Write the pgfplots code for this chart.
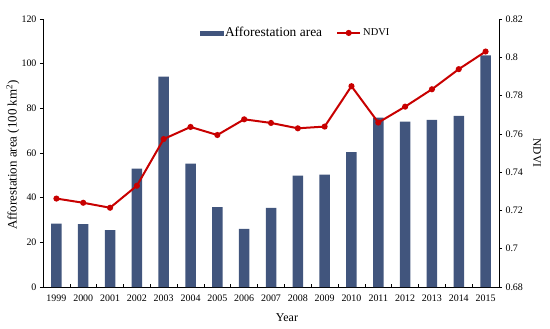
\documentclass[border=0pt]{standalone}
\usepackage{pgfplots}
\pgfplotsset{compat=1.18}
\usepackage{fontspec}
\setmainfont{Liberation Serif}
\definecolor{barblue}{RGB}{65,85,125}
\definecolor{ndvired}{RGB}{200,0,0}

\pgfplotsset{
  ndvilegend/.style={legend image code/.code={\draw[##1,mark=none] (0bp,0bp) -- (23bp,0bp); \draw[##1] plot coordinates {(11.5bp,0bp)};}},
  barlegend/.style={legend image code/.code={\fill[barblue] (0bp,-2bp) rectangle (23bp,2bp);}},
}

\pgfplotstableread{
x area ndvi
0 28.4 0.7262
1 28.1 0.7240
2 25.5 0.7214
3 53.0 0.7329
4 94.2 0.7573
5 55.2 0.7636
6 35.8 0.7594
7 26.0 0.7676
8 35.4 0.7657
9 49.9 0.7629
10 50.3 0.7638
11 60.4 0.7849
12 75.8 0.7659
13 74.0 0.7742
14 74.8 0.7833
15 76.6 0.7938
16 103.7 0.8030
}\datatable

\begin{document}
\begin{tikzpicture}
\begin{axis}[
  at={(0,0)}, anchor=south west,
  scale only axis, width=456bp, height=268bp,
  xmin=-0.5, xmax=16.5, ymin=0, ymax=120,
  axis y line*=left, axis x line*=bottom,
  axis line style={black, line width=0.8bp},
  xtick={0,...,16},
  xticklabels={1999,2000,2001,2002,2003,2004,2005,2006,2007,2008,2009,2010,2011,2012,2013,2014,2015},
  major x tick style={draw=none},
  minor xtick={0.5,1.5,...,15.5},
  minor tick length=3bp,
  minor x tick style={black, line width=0.6bp, yshift=3bp},
  ytick={0,20,...,120},
  tick align=outside,
  major tick length=3bp,
  y tick style={black, line width=0.6bp},
  tick label style={font=\fontsize{10}{12}\selectfont},
  /pgf/number format/assume math mode=true,
  xticklabel style={yshift=-1bp},
  ylabel={Afforestation area (100 km\textsuperscript{2})},
  every axis y label/.style={at={(axis description cs:-0.066,0.4925)}, rotate=90, anchor=center, font=\fontsize{13}{15}\selectfont},
  xlabel={Year},
  every axis x label/.style={at={(axis description cs:0.535,-0.116)}, anchor=center, font=\fontsize{12}{14}\selectfont},
]
\addplot[ybar, bar width=10.5bp, fill=barblue, draw=none] table[x=x, y=area] {\datatable};
\end{axis}

\begin{axis}[
  at={(0,0)}, anchor=south west,
  scale only axis, width=456bp, height=268bp,
  xmin=-0.5, xmax=16.5, ymin=0.68, ymax=0.82,
  axis y line*=right, axis x line=none,
  axis line style={black, line width=0.8bp},
  ytick={0.68,0.70,...,0.821},
  tick align=outside,
  major tick length=3bp,
  y tick style={black, line width=0.6bp},
  yticklabel style={font=\fontsize{10}{12}\selectfont, /pgf/number format/fixed, /pgf/number format/precision=2},
  /pgf/number format/assume math mode=true,
  ylabel={NDVI},
  every axis y label/.style={at={(axis description cs:1.0833,0.5)}, rotate=-90, anchor=center, font=\fontsize{11.5}{14}\selectfont},
  legend style={at={(0.343,0.948)}, anchor=west, draw=none, fill=none, legend columns=2,
    inner sep=0pt, /tikz/every even column/.append style={column sep=12bp}},
  legend cell align=left,
]
\addlegendimage{barlegend}
\addlegendentry{\fontsize{13.5}{15}\selectfont Afforestation area}
\addplot[ndvired, line width=2bp, mark=*, mark size=2bp, ndvilegend]
  table[x=x, y=ndvi] {\datatable};
\addlegendentry{\fontsize{10.5}{12}\selectfont NDVI}
\end{axis}
\pgfresetboundingbox
\path (-43bp,-42bp) rectangle (507bp,287bp);
\end{tikzpicture}
\end{document}
